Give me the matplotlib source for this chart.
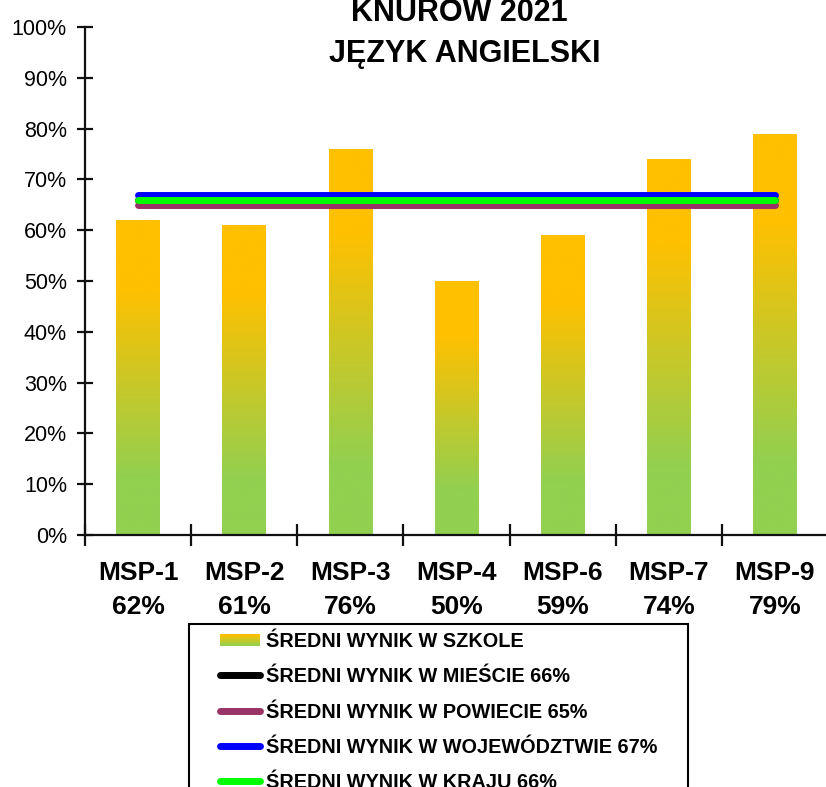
import numpy as np
import matplotlib
matplotlib.use("Agg")
import matplotlib.pyplot as plt
from matplotlib.colors import LinearSegmentedColormap
from matplotlib.patches import Rectangle
from matplotlib.lines import Line2D
from matplotlib.legend_handler import HandlerBase

plt.rcParams['font.family'] = ['Liberation Sans', 'DejaVu Sans']

# ---- data ----
categories = ["MSP-1", "MSP-2", "MSP-3", "MSP-4", "MSP-6", "MSP-7", "MSP-9"]
school_scores = [62, 61, 76, 50, 59, 74, 79]
city_avg = 66
county_avg = 65
voivodeship_avg = 67
country_avg = 66
y_ticks = [0, 10, 20, 30, 40, 50, 60, 70, 80, 90, 100]
title_line1 = "KNURÓW 2021"
title_line2 = "JĘZYK ANGIELSKI"
legend_labels = ["ŚREDNI WYNIK W SZKOLE",
                 f"ŚREDNI WYNIK W MIEŚCIE {city_avg}%",
                 f"ŚREDNI WYNIK W POWIECIE {county_avg}%",
                 f"ŚREDNI WYNIK W WOJEWÓDZTWIE {voivodeship_avg}%",
                 f"ŚREDNI WYNIK W KRAJU {country_avg}%"]

ORANGE = "#FFC000"
LGREEN = "#92D050"
cmap = LinearSegmentedColormap.from_list(
    "bar", [(0, LGREEN), (0.18, LGREEN), (0.78, ORANGE), (1, ORANGE)])

W, H = 826, 787
fig = plt.figure(figsize=(W / 100, H / 100), dpi=100)
ax = fig.add_axes([85 / W, 1 - 535 / H, (828 - 85) / W, (535 - 27) / H])

x = np.arange(len(categories))
vals = np.array(school_scores) / 100.0
bars = ax.bar(x, vals, width=0.41, color="none", edgecolor="none", zorder=2)
grad = np.linspace(0, 1, 256).reshape(-1, 1)
for b in bars:
    x0, y0 = b.get_x(), b.get_y()
    w, h = b.get_width(), b.get_height()
    im = ax.imshow(grad, extent=[x0, x0 + w, y0, y0 + h], aspect="auto",
                   origin="lower", cmap=cmap, zorder=2, interpolation="bilinear")
    im.set_clip_path(b)

xs = [x[0], x[-1]]
ax.plot(xs, [city_avg / 100] * 2, color="black", lw=5, solid_capstyle="round", zorder=3)
ax.plot(xs, [county_avg / 100] * 2, color="#993366", lw=5, solid_capstyle="round", zorder=3)
ax.plot(xs, [voivodeship_avg / 100] * 2, color="#0000FF", lw=5, solid_capstyle="round", zorder=3)
ax.plot(xs, [country_avg / 100] * 2, color="#00FF00", lw=5, solid_capstyle="round", zorder=4)

ax.set_xlim(-0.5, len(categories) - 0.5)
ax.set_ylim(0, 1.0)

for s in ["top", "right"]:
    ax.spines[s].set_visible(False)
for s in ["left", "bottom"]:
    ax.spines[s].set_linewidth(1.6)
    ax.spines[s].set_color("#111111")

ax.set_yticks([t / 100 for t in y_ticks])
ax.set_yticklabels([f"{t}%" for t in y_ticks], fontsize=15.5)
ax.tick_params(axis="y", direction="inout", length=12, width=1.6, pad=7, color="#111111")

ax.set_xticks(np.arange(-0.5, len(categories), 1.0))
ax.set_xticklabels([])
ax.set_xticks(x, minor=True)
ax.set_xticklabels([f"{c}\n{v}%" for c, v in zip(categories, school_scores)],
                   minor=True, fontsize=19, fontweight="bold", linespacing=1.5)
ax.tick_params(axis="x", which="major", direction="inout", length=16, width=1.6, color="#111111")
ax.tick_params(axis="x", which="minor", length=0, pad=19)

fig.text(459.5 / W, 1 - 21 / H, title_line1, ha="center", va="baseline",
         fontsize=22, fontweight="bold")
fig.text(464.5 / W, 1 - 62 / H, title_line2, ha="center", va="baseline",
         fontsize=22, fontweight="bold")


class GradHandler(HandlerBase):
    def create_artists(self, legend, orig_handle, xdescent, ydescent,
                       width, height, fontsize, trans):
        n = 12
        arts = []
        hh = 11 * 0.72
        yb = -ydescent + (height - hh) / 2
        for i in range(n):
            c = cmap(0.15 + 0.7 * (i + 0.5) / n)
            r = Rectangle((-xdescent, yb + hh * i / n), width, hh / n + 0.3,
                          facecolor=c, edgecolor="none", transform=trans)
            arts.append(r)
        return arts


grad_handle = Rectangle((0, 0), 1, 1)
handles = [grad_handle,
           Line2D([], [], color="black", lw=5, solid_capstyle="round"),
           Line2D([], [], color="#993366", lw=5, solid_capstyle="round"),
           Line2D([], [], color="#0000FF", lw=5, solid_capstyle="round"),
           Line2D([], [], color="#00FF00", lw=5, solid_capstyle="round")]

fig.patches.append(Rectangle((189 / W, -0.1), (688 - 189) / W, 1 - 624 / H + 0.1,
                             transform=fig.transFigure, facecolor="white",
                             edgecolor="black", lw=1.5, zorder=5))
fs_leg = 14.3
leg = fig.legend(handles, legend_labels, loc="upper left",
                 bbox_to_anchor=(220 / W, 1 - 632 / H), borderaxespad=0, borderpad=0,
                 frameon=False, handlelength=40 / (fs_leg * 100 / 72),
                 handletextpad=6 / (fs_leg * 100 / 72),
                 labelspacing=0.82, prop={"weight": "bold", "size": fs_leg},
                 handler_map={Rectangle: GradHandler()})
leg.set_zorder(6)

fig.savefig("out.png", dpi=100)
